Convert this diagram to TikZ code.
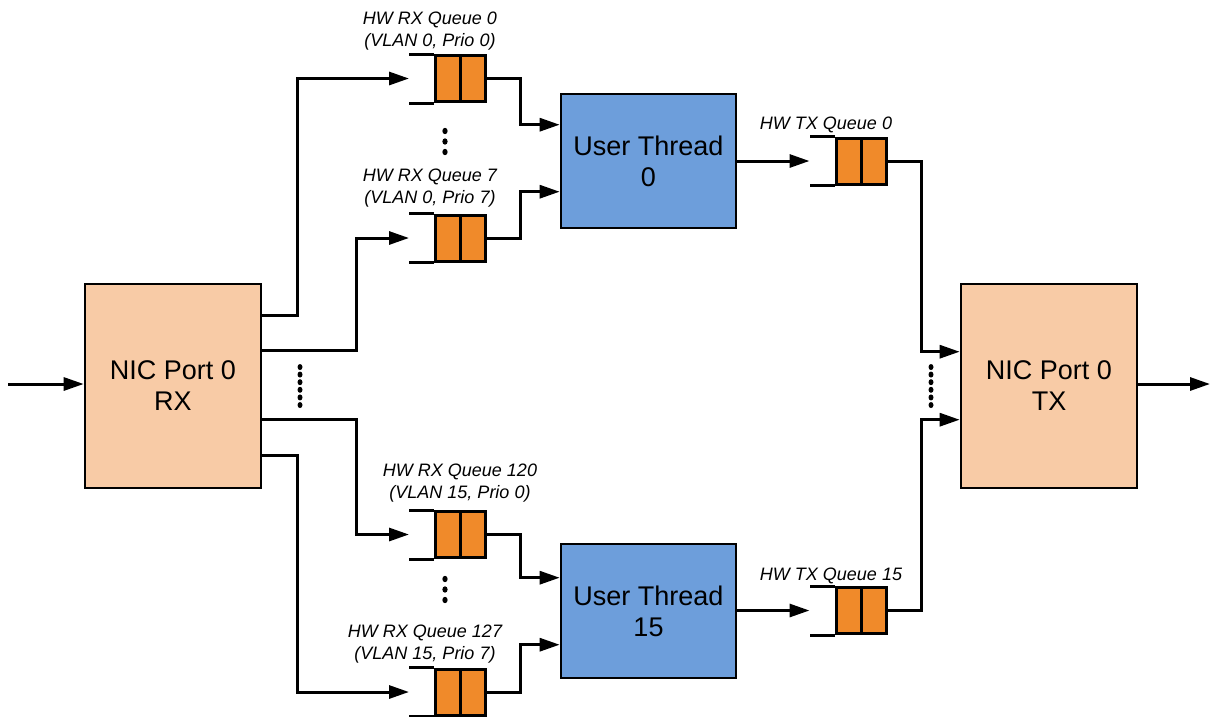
\documentclass[tikz,border=0pt]{standalone}
\usepackage{fontspec}
\setmainfont{Liberation Sans}
\usetikzlibrary{arrows.meta,calc}
\definecolor{nicfill}{HTML}{F8CBA6}
\definecolor{thrfill}{HTML}{6D9EDB}
\definecolor{qfill}{HTML}{F08A2A}
\begin{document}
\begin{tikzpicture}[x=1pt,y=-1pt,
  nic/.style={draw, fill=nicfill, line width=2.6pt, minimum width=176pt, minimum height=204pt,
    align=center, inner sep=0pt, font=\fontsize{27}{31}\selectfont},
  thr/.style={draw, fill=thrfill, line width=2.6pt, minimum width=175pt, minimum height=134pt,
    align=center, inner sep=0pt, font=\fontsize{27}{31}\selectfont},
  queue/.style={draw, fill=qfill, line width=3pt, minimum width=50pt, minimum height=46pt,
    inner sep=0pt, path picture={\draw[line width=3pt] (path picture bounding box.north) -- (path picture bounding box.south);}},
  qlabel/.style={align=center, inner sep=0pt, font=\fontsize{18}{22.5}\selectfont\itshape},
  qline/.style={line width=3pt},
  conn/.style={line width=3pt, -{Triangle[length=20pt,width=13pt]}},
  dot/.style={fill=black}
]
\useasboundingbox (0,0) rectangle (1210,716);

% main boxes
\node[nic] (rx) at (173,386) {NIC Port 0\\RX};
\node[nic] (tx) at (1049,386) {NIC Port 0\\TX};
\node[thr] (t0) at (648.5,161) {User Thread\\0};
\node[thr] (t15) at (648.5,611) {User Thread\\15};

% queues
\foreach \n/\x/\y in {rq0/460.5/78.5, rq7/460.5/238, rq120/460.5/534.5, rq127/460.5/692, tq0/861/161, tq15/861/610.5}{
  \node[queue] (\n) at (\x,\y) {};
  \draw[qline] (\n.north west) -- ++(-25,0) (\n.south west) -- ++(-25,0);
  \coordinate (\n in) at ($(\n.west)+(-25,0)$);
}

% labels
\node[qlabel] (lrq0) at (430,31) {HW RX Queue 0\\(VLAN 0, Prio 0)};
\node[qlabel] (lrq7) at (430,188) {HW RX Queue 7\\(VLAN 0, Prio 7)};
\node[qlabel] (lrq120) at (460,483) {HW RX Queue 120\\(VLAN 15, Prio 0)};
\node[qlabel] (lrq127) at (425,644) {HW RX Queue 127\\(VLAN 15, Prio 7)};
\node[qlabel] (ltq0) at (826,125) {HW TX Queue 0};
\node[qlabel] (ltq15) at (831,576) {HW TX Queue 15};

% input / output
\coordinate (src) at (8,384);
\coordinate (sink) at (1210,384);
\draw[conn] (src) -- (src -| rx.west);
\draw[conn] (sink -| tx.east) -- (sink);

% RX port to RX queues
\draw[conn] ($(rx.north east)+(0,33)$) -- ++(35,0) |- (rq0in);
\draw[conn] ($(rx.north east)+(0,68)$) -- ++(94,0) |- (rq7in);
\draw[conn] ($(rx.north east)+(0,137)$) -- ++(94,0) |- (rq120in);
\draw[conn] ($(rx.north east)+(0,173)$) -- ++(35,0) |- (rq127in);

% RX queues to threads
\draw[conn] (rq0.east) -- ++(33,0) |- ($(t0.north west)+(0,32)$);
\draw[conn] (rq7.east) -- ++(33,0) |- ($(t0.north west)+(0,99)$);
\draw[conn] (rq120.east) -- ++(33,0) |- ($(t15.north west)+(0,35)$);
\draw[conn] (rq127.east) -- ++(33,0) |- ($(t15.north west)+(0,102)$);

% threads to TX queues
\draw[conn] (t0.east |- tq0) -- (tq0in);
\draw[conn] (t15.east |- tq15) -- (tq15in);

% TX queues to TX port
\draw[conn] (tq0.east) -- ++(34,0) |- ($(tx.north west)+(0,69)$);
\draw[conn] (tq15.east) -- ++(34,0) |- ($(tx.north west)+(0,137)$);

% ellipsis dots
\foreach \y in {131,141.5,152}{
  \fill[dot] (445,\y) ellipse (2.6pt and 3.2pt);
  \fill[dot] (445,\y+448) ellipse (2.6pt and 3.2pt);
}
\foreach \i in {0,...,5}{
  \fill[dot] (300,367+7.6*\i) ellipse (2.5pt and 3pt);
  \fill[dot] (931,367+7.6*\i) ellipse (2.5pt and 3pt);
}
\end{tikzpicture}
\end{document}
